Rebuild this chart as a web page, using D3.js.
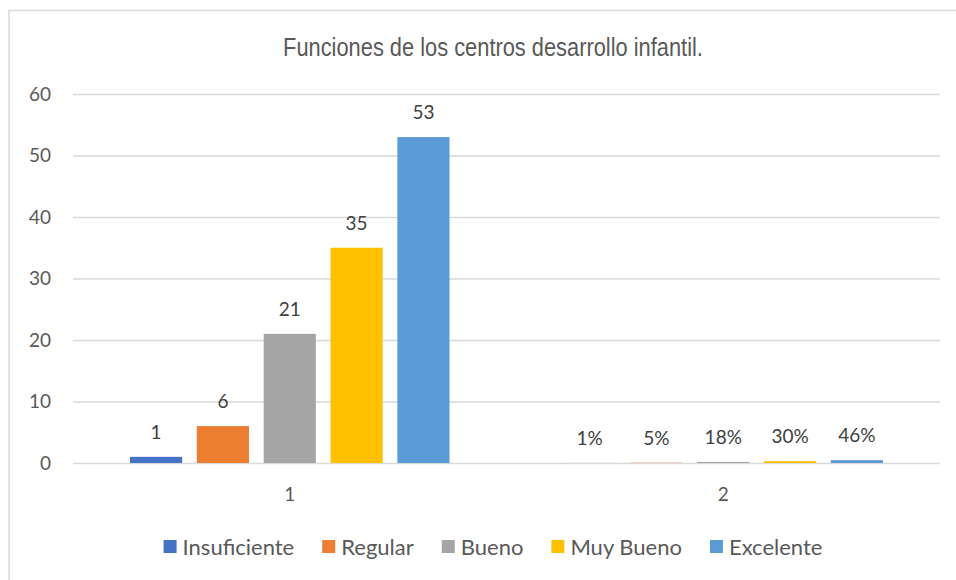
<!DOCTYPE html>
<html>
<head>
<meta charset="utf-8">
<script src="https://cdn.jsdelivr.net/npm/d3@7"></script>
<style>
  body { margin: 0; background: #fff; }
  svg { display: block; }
</style>
</head>
<body>
<svg id="chart"></svg>
<script>
// datos
const categories = ["1", "2"];
const seriesNames = ["Insuficiente", "Regular", "Bueno", "Muy Bueno", "Excelente"];
const seriesColors = ["#4472C4", "#ED7D31", "#A5A5A5", "#FFC000", "#5B9BD5"];
const group1Values = [1, 6, 21, 35, 53];
const group2Values = [0.01, 0.05, 0.18, 0.30, 0.46];
const group2Labels = ["1%", "5%", "18%", "30%", "46%"];
const yTicks = [0, 10, 20, 30, 40, 50, 60];

const width = 956, height = 580;
const plot = { left: 73, right: 940, top: 94, bottom: 463 };

const svg = d3.select("#chart").attr("width", width).attr("height", height);

// marco
svg.append("rect")
    .attr("x", 9).attr("y", 10.5)
    .attr("width", 960).attr("height", 600)
    .attr("fill", "#fff")
    .attr("stroke", "#D9D9D9")
    .attr("stroke-width", 1.5);

// titulo (fuente estrecha: se comprime en horizontal)
const title = svg.append("text")
    .attr("x", 0).attr("y", 0)
    .attr("text-anchor", "middle")
    .style("font-family", "'Liberation Sans Narrow', 'Arial Narrow', 'Liberation Sans', sans-serif")
    .style("font-size", "26px")
    .style("fill", "#595959")
    .text("Funciones de los centros desarrollo infantil.");
const tw = title.node().getComputedTextLength();
const sx = Math.min(1, 420 / tw);
title.attr("transform", `translate(493,56) scale(${sx},1)`);

// escalas
const y = d3.scaleLinear().domain([0, 60]).range([plot.bottom, plot.top]);
const x0 = d3.scaleBand().domain(categories).range([plot.left, plot.right]).padding(0);
const x1 = d3.scaleBand().domain(seriesNames)
    .range([57, x0.bandwidth() - 57])
    .paddingInner(0.22);

// lineas de cuadricula
svg.append("g").selectAll("line")
    .data(yTicks)
    .enter().append("line")
    .attr("x1", plot.left).attr("x2", plot.right)
    .attr("y1", d => y(d) + 0.5).attr("y2", d => y(d) + 0.5)
    .attr("stroke", "#D9D9D9")
    .attr("stroke-width", 1.3);

// etiquetas eje Y
svg.append("g").selectAll("text")
    .data(yTicks)
    .enter().append("text")
    .attr("x", 51)
    .attr("y", d => y(d))
    .attr("dy", "0.36em")
    .attr("text-anchor", "end")
    .style("font-family", "Lato, 'Open Sans', sans-serif")
    .style("font-size", "19px")
    .style("fill", "#595959")
    .text(d => d);

// etiquetas eje X
svg.append("g").selectAll("text")
    .data(categories)
    .enter().append("text")
    .attr("x", d => x0(d) + x0.bandwidth() / 2)
    .attr("y", 501)
    .attr("text-anchor", "middle")
    .style("font-family", "Lato, 'Open Sans', sans-serif")
    .style("font-size", "19px")
    .style("fill", "#595959")
    .text(d => d);

const groups = [
    { cat: "1", values: group1Values, labels: group1Values.map(String) },
    { cat: "2", values: group2Values, labels: group2Labels }
];

groups.forEach(g => {
    const rows = seriesNames.map((s, i) => ({ s, i, v: g.values[i], label: g.labels[i] }));
    const gg = svg.append("g").attr("transform", `translate(${x0(g.cat)},0)`);

    gg.selectAll("rect")
        .data(rows)
        .enter().append("rect")
        .attr("x", d => x1(d.s))
        .attr("y", d => y(d.v))
        .attr("width", x1.bandwidth())
        .attr("height", d => y(0) - y(d.v))
        .attr("fill", d => seriesColors[d.i]);

    gg.selectAll("text")
        .data(rows)
        .enter().append("text")
        .attr("x", d => x1(d.s) + x1.bandwidth() / 2)
        .attr("y", d => y(d.v) - 18)
        .attr("text-anchor", "middle")
        .style("font-family", "Lato, 'Open Sans', sans-serif")
        .style("font-size", "19px")
        .style("fill", "#404040")
        .text(d => d.label);
});

// leyenda
const legend = svg.append("g");
const items = legend.selectAll("g")
    .data(seriesNames)
    .enter().append("g");

items.append("rect")
    .attr("width", 13).attr("height", 13)
    .attr("y", 540)
    .attr("fill", (d, i) => seriesColors[i]);

items.append("text")
    .attr("x", 19)
    .attr("y", 555)
    .style("font-family", "Lato, 'Open Sans', sans-serif")
    .style("font-size", "22px")
    .style("fill", "#595959")
    .text(d => d);

let cursor = 0;
const offsets = [];
items.each(function () {
    const w = d3.select(this).select("text").node().getComputedTextLength() + 19;
    offsets.push(cursor);
    cursor += w + 28;
});
const total = cursor - 28;
const start = 493 - total / 2;
items.attr("transform", (d, i) => `translate(${start + offsets[i]},0)`);
</script>
</body>
</html>
